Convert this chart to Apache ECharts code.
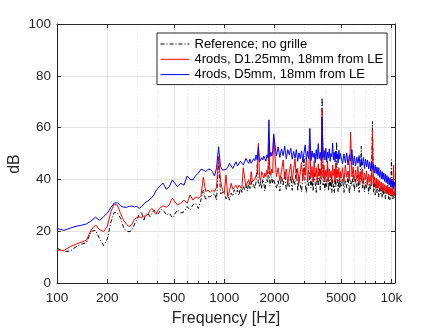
<!DOCTYPE html>
<html>
<head>
<meta charset="utf-8">
<script src="https://cdn.jsdelivr.net/npm/echarts@6/dist/echarts.min.js"></script>
<style>
  html, body { margin: 0; padding: 0; background: #fff; }
  #chart { width: 437px; height: 328px; }
</style>
</head>
<body>
<div id="chart"></div>
<script>
// Narrowband spectra, stored per frequency band: [first bin (Hz), bin width (Hz)]
const bandLow = [100, 10];
const bandMid = [500, 25];
const bandHigh = [2000, 50];
const bandTop = [5000, 100];

// Reference; no grille (dB)
const refLow = [13.4, 12.2, 12.3, 14.0, 15.0, 15.6, 20.0, 20.3, 17.0, 14.5, 17.0, 23.5, 27.3, 27.0, 25.0, 21.5, 20.0, 19.8, 20.3, 22.5,
  24.5, 26.5, 27.5, 24.0, 26.5, 26.9, 25.6, 27.0, 28.2, 27.5, 26.3, 27.5, 28.5, 28.8, 27.5, 26.3, 26.5, 26.9, 26.0, 25.2];
const refMid = [25.5, 28.2, 27.0, 27.5, 29.5, 28.2, 30.2, 30.8, 28.8, 32.0, 35.9, 32.0, 33.3, 33.3, 34.0, 34.6, 32.0, 48.0, 34.6, 33.9,
  35.0, 32.5, 34.0, 32.0, 34.7, 33.5, 36.0, 34.5, 35.9, 33.8, 37.0, 35.0, 37.3, 36.0, 38.0, 35.5, 38.5, 36.5, 39.3, 37.0,
  38.0, 36.2, 39.0, 45.7, 38.5, 37.0, 39.5, 36.5, 40.0, 38.5, 35.5, 39.0, 40.0, 38.6, 54.0, 37.5, 39.0, 41.0, 38.5, 40.0];
const refHigh = [40.5, 36.5, 39.8, 35.5, 41.2, 37.5, 43.0, 35.8, 39.5, 37.2, 41.5, 35.8, 40.5, 38.0, 44.0, 35.5, 41.0, 37.8, 35.2, 40.8,
  48.9, 38.0, 34.8, 40.5, 37.5, 43.0, 36.8, 40.0, 35.5, 42.5, 38.5, 35.0, 41.0, 37.5, 44.5, 36.0, 42.0, 71.5, 37.8, 41.0,
  35.8, 39.5, 37.0, 45.0, 35.5, 39.8, 36.5, 41.5, 35.0, 40.0, 37.5, 34.8, 40.8, 37.0, 54.5, 38.5, 35.2, 40.2, 36.5, 39.5];
const refTop = [37.0, 40.5, 35.0, 39.8, 36.8, 41.2, 34.5, 39.5, 37.5, 42.0, 35.5, 40.0, 37.0, 41.5, 35.0, 39.8, 52.8, 36.5, 40.5, 35.2,
  39.0, 36.5, 41.0, 34.5, 38.5, 36.0, 40.0, 62.3, 35.0, 38.5, 34.0, 38.0, 34.8, 37.5, 33.2, 37.8, 34.5, 36.8, 33.0, 37.0,
  34.0, 36.5, 32.5, 36.0, 34.2, 37.5, 32.5, 35.8, 32.2, 36.0, 47.6, 34.5, 32.5, 35.5, 32.8, 34.5];

// 4rods, D1.25mm, 18mm from LE (dB)
const thinLow = [12.7, 12.6, 14.0, 15.0, 15.8, 16.5, 20.5, 22.4, 20.6, 19.8, 22.0, 27.5, 30.5, 30.0, 26.8, 24.2, 22.7, 21.8, 22.5, 24.6,
  25.3, 25.6, 25.2, 25.8, 25.9, 26.5, 28.0, 28.8, 27.8, 26.6, 27.8, 28.8, 29.2, 29.8, 30.1, 29.3, 28.8, 30.2, 31.8, 32.7];
const thinMid = [32.7, 30.1, 30.8, 32.0, 30.8, 34.0, 32.0, 33.3, 32.7, 33.5, 40.8, 35.3, 35.9, 35.0, 35.9, 35.2, 37.0, 48.8, 39.8, 35.9,
  34.6, 41.7, 33.3, 35.5, 38.5, 36.2, 35.9, 37.8, 36.5, 37.8, 38.4, 36.5, 44.5, 40.4, 37.2, 37.8, 39.9, 38.0, 43.0, 39.0,
  38.5, 40.2, 41.5, 42.5, 53.9, 41.0, 39.5, 43.0, 41.8, 40.5, 42.5, 41.0, 43.6, 42.0, 52.8, 43.6, 41.5, 44.0, 42.5, 57.0];
const thinHigh = [56.6, 41.0, 44.5, 39.5, 43.0, 47.5, 40.2, 44.0, 38.5, 42.8, 46.0, 39.8, 43.5, 48.0, 40.5, 44.2, 38.5, 43.0, 46.5, 39.5,
  44.0, 41.5, 48.5, 39.5, 43.8, 53.4, 40.5, 45.0, 39.0, 47.0, 41.0, 44.5, 39.0, 46.0, 41.2, 44.0, 40.0, 67.5, 41.5, 45.5,
  39.2, 43.5, 41.0, 47.0, 39.0, 44.0, 40.8, 43.2, 38.5, 45.5, 41.5, 44.0, 39.2, 46.5, 40.5, 43.8, 41.0, 44.5, 39.0, 43.0];
const thinTop = [40.5, 44.5, 39.0, 45.5, 40.8, 43.2, 39.5, 58.2, 41.0, 44.8, 39.2, 43.5, 40.0, 45.0, 38.5, 43.0, 39.5, 44.0, 38.2, 42.5,
  39.8, 43.2, 38.0, 42.0, 39.0, 41.5, 37.5, 59.0, 38.2, 41.0, 37.0, 40.5, 36.5, 40.0, 37.2, 39.5, 35.8, 39.0, 36.0, 38.5,
  35.2, 38.0, 35.0, 37.5, 34.5, 37.8, 34.2, 37.0, 34.0, 36.8, 33.5, 36.5, 34.0, 45.5, 33.8, 35.5];

// 4rods, D5mm, 18mm from LE (dB)
const thickLow = [21.1, 20.3, 21.2, 21.9, 22.3, 22.8, 24.0, 25.4, 24.2, 25.6, 27.0, 29.1, 30.9, 31.0, 29.8, 29.3, 29.2, 29.6, 29.7, 29.4,
  29.6, 28.8, 29.5, 30.5, 31.2, 31.7, 32.3, 33.1, 34.0, 35.5, 36.5, 37.0, 37.8, 38.6, 37.5, 36.2, 35.9, 37.2, 38.6, 39.8];
const thickMid = [39.0, 37.2, 38.5, 37.8, 41.3, 40.0, 39.8, 41.5, 42.4, 43.9, 43.6, 43.0, 43.9, 43.9, 43.0, 41.3, 44.5, 52.6, 45.0, 43.6,
  44.3, 43.8, 44.7, 46.2, 45.6, 44.2, 44.9, 46.8, 45.2, 45.6, 47.0, 47.5, 45.6, 46.0, 48.1, 47.0, 46.2, 47.8, 46.2, 46.8,
  48.0, 47.2, 49.4, 47.5, 52.6, 46.8, 46.2, 48.4, 47.5, 49.0, 48.1, 47.0, 49.5, 48.3, 63.0, 48.7, 50.5, 49.0, 51.0, 57.5];
const thickHigh = [57.9, 49.0, 52.5, 48.5, 51.8, 49.2, 52.8, 48.0, 51.5, 49.5, 52.0, 47.8, 50.8, 48.2, 51.5, 47.0, 50.2, 48.0, 51.0, 46.8,
  50.5, 53.3, 47.5, 50.8, 48.0, 59.7, 47.2, 51.0, 48.5, 50.2, 46.5, 51.5, 47.8, 53.8, 48.0, 50.5, 47.2, 64.0, 48.5, 51.2,
  47.5, 52.0, 46.8, 50.5, 48.2, 51.8, 47.0, 50.0, 48.8, 54.0, 47.5, 50.5, 46.8, 51.0, 48.0, 49.8, 46.5, 51.2, 47.8, 50.0];
const thickTop = [50.5, 46.0, 49.8, 46.5, 50.2, 45.5, 49.5, 47.2, 51.5, 45.5, 49.0, 45.2, 48.5, 46.2, 49.2, 44.8, 48.0, 45.5, 48.5, 44.2,
  47.8, 44.8, 47.5, 44.0, 46.8, 43.2, 47.0, 43.8, 46.0, 42.5, 45.5, 42.2, 44.8, 41.5, 44.5, 40.8, 43.5, 40.2, 43.0, 40.0,
  42.5, 39.2, 42.0, 38.8, 41.5, 38.2, 41.0, 37.8, 40.5, 37.2, 40.0, 36.8, 39.5, 36.5, 39.0, 37.5];

const seriesNames = ['Reference; no grille', '4rods, D1.25mm, 18mm from LE', '4rods, D5mm, 18mm from LE'];
const majorFreqs = [100, 200, 500, 1000, 2000, 5000, 10000];
const minorFreqs = [300, 400, 600, 700, 800, 900, 3000, 4000, 6000, 7000, 8000, 9000];
const yTicks = [0, 20, 40, 60, 80, 100];

function spectrum(parts) {
  const pts = [];
  parts.forEach(([band, vals]) => {
    vals.forEach((v, i) => pts.push([band[0] + i * band[1], v]));
  });
  return pts;
}

const refData = spectrum([[bandLow, refLow], [bandMid, refMid], [bandHigh, refHigh], [bandTop, refTop]]);
const thinData = spectrum([[bandLow, thinLow], [bandMid, thinMid], [bandHigh, thinHigh], [bandTop, thinTop]]);
const thickData = spectrum([[bandLow, thickLow], [bandMid, thickMid], [bandHigh, thickHigh], [bandTop, thickTop]]);

const ink = '#262626';
const font = 'Liberation Sans, Arial, Helvetica, sans-serif';

// Line styles shared by the curves and their legend keys
const styles = [
  { color: '#000000', width: 1, type: [4, 2, 1, 2] },
  { color: '#ff0000', width: 1, type: 'solid' },
  { color: '#0000ff', width: 1, type: 'solid' }
];

const chart = echarts.init(document.getElementById('chart'), null, { renderer: 'canvas' });

const logAxisBase = { type: 'log', logBase: 10, min: 100, max: 10500 };

chart.setOption({
  animation: false,
  backgroundColor: '#fff',
  grid: { left: 57, right: 42, top: 24, bottom: 45, outerBoundsMode: 'none', containLabel: false },
  // vertical axis title
  graphic: [{
    type: 'text',
    left: 7,
    top: 'middle',
    rotation: Math.PI / 2,
    style: { text: 'dB', fontFamily: font, fontSize: 16, fill: ink },
    z: 10
  }],
  legend: {
    orient: 'vertical',
    left: 157,
    top: 33,
    padding: [4, 4, 3, 3],
    itemWidth: 29,
    itemHeight: 14,
    itemGap: 1.3,
    backgroundColor: '#fff',
    borderColor: ink,
    borderWidth: 1,
    borderRadius: 0,
    textStyle: { fontFamily: font, fontSize: 13, color: '#000', lineHeight: 14 },
    data: seriesNames.map((name, i) => ({
      name,
      itemStyle: { opacity: 0 },
      lineStyle: Object.assign({}, styles[i])
    }))
  },
  xAxis: [
    Object.assign({}, logAxisBase, {
      position: 'bottom',
      name: 'Frequency [Hz]',
      nameLocation: 'middle',
      nameGap: 28,
      nameTextStyle: { fontFamily: font, fontSize: 16, color: ink },
      axisLine: { show: true, lineStyle: { color: ink, width: 1 } },
      axisTick: { show: true, inside: true, length: 4, customValues: majorFreqs, lineStyle: { color: ink } },
      axisLabel: {
        show: true, customValues: majorFreqs, margin: 8,
        fontFamily: font, fontSize: 13.5, color: ink,
        formatter: v => (v >= 10000 ? (v / 1000) + 'k' : String(v))
      },
      splitLine: { show: true, lineStyle: { color: '#e3e3e3', width: 1 } }
    }),
    Object.assign({}, logAxisBase, {
      position: 'bottom',
      axisLine: { show: false },
      axisTick: { show: true, inside: true, length: 2, customValues: minorFreqs, lineStyle: { color: ink } },
      axisLabel: { show: false, customValues: minorFreqs },
      splitLine: { show: true, lineStyle: { color: '#e6e6e6', width: 1, type: [1, 2] } }
    }),
    Object.assign({}, logAxisBase, {
      position: 'top',
      axisLine: { show: true, lineStyle: { color: ink, width: 1 } },
      axisTick: { show: true, inside: true, length: 4, customValues: majorFreqs, lineStyle: { color: ink } },
      axisLabel: { show: false, customValues: majorFreqs },
      splitLine: { show: false }
    })
  ],
  yAxis: [
    {
      type: 'value', min: 0, max: 100, interval: 20, position: 'left',
      axisLine: { show: true, lineStyle: { color: ink, width: 1 } },
      axisTick: { show: true, inside: true, length: 4, customValues: yTicks, lineStyle: { color: ink } },
      axisLabel: { fontFamily: font, fontSize: 13.5, color: ink, margin: 6, customValues: yTicks },
      splitLine: { show: true, lineStyle: { color: '#e3e3e3', width: 1 } }
    },
    {
      type: 'value', min: 0, max: 100, interval: 20, position: 'right',
      axisLine: { show: true, lineStyle: { color: ink, width: 1 } },
      axisTick: { show: true, inside: true, length: 4, lineStyle: { color: ink } },
      axisLabel: { show: false },
      splitLine: { show: false }
    }
  ],
  series: [refData, thinData, thickData].map((data, i) => ({
    name: seriesNames[i], type: 'line', xAxisIndex: 0, yAxisIndex: 0,
    data, symbol: 'none', showSymbol: false, smooth: false, z: 2 + i,
    lineStyle: Object.assign({}, styles[i]),
    itemStyle: { color: styles[i].color }
  }))
});
</script>
</body>
</html>
